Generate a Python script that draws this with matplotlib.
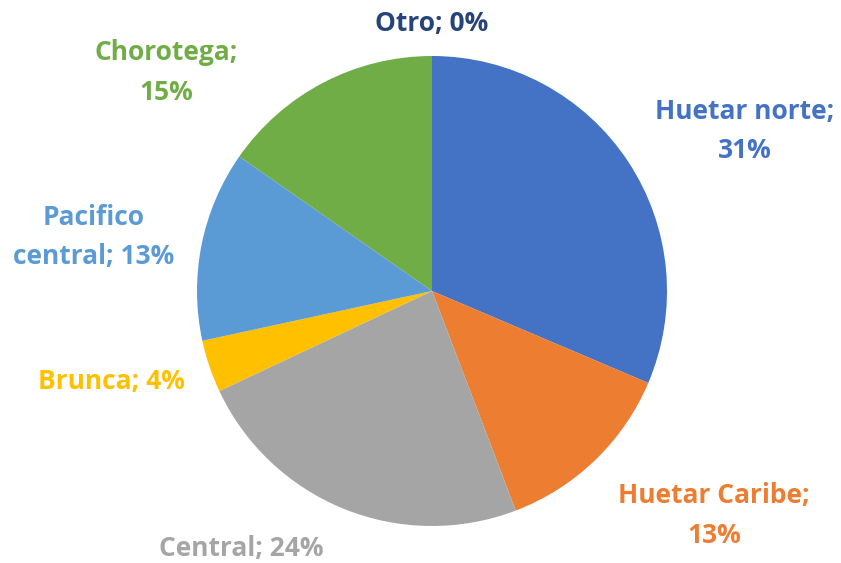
import matplotlib.pyplot as plt

# Datos por región (porcentaje)
regiones = ["Huetar norte", "Huetar Caribe", "Central", "Brunca",
            "Pacifico central", "Chorotega", "Otro"]
valores = [31.4, 12.8, 23.8, 3.6, 13.1, 15.3, 0.0]
colores = ["#4472C4", "#ED7D31", "#A5A5A5", "#FFC000",
           "#5B9BD5", "#70AD47", "#264478"]

# Texto de cada etiqueta y su posición (en unidades del radio)
textos = ["Huetar norte;\n31%", "Huetar Caribe;\n13%", "Central; 24%",
          "Brunca; 4%", "Pacifico\ncentral; 13%", "Chorotega;\n15%", "Otro; 0%"]
pos_etiquetas = [(1.33, 0.68), (1.20, -0.955), (-0.81, -1.094),
                 (-1.362, -0.387), (-1.44, 0.23), (-1.13, 0.93), (0.0, 1.14)]

fig = plt.figure(figsize=(8.41, 5.63), dpi=100)
ax = fig.add_axes([(432 - 235) / 841, (563 - 291 - 235) / 563, 470 / 841, 470 / 563])

ax.pie(valores, colors=colores, startangle=90, counterclock=False, radius=1,
       wedgeprops=dict(linewidth=0))
ax.set_xlim(-1, 1)
ax.set_ylim(-1, 1)
ax.set_aspect('equal')
ax.axis('off')

for texto, (x, y), c in zip(textos, pos_etiquetas, colores):
    ax.text(x, y, texto, color=c, ha='center', va='center', fontsize=19,
            fontweight='bold', family='Open Sans', linespacing=1.6)

plt.savefig('out.png', dpi=100)
plt.close()
